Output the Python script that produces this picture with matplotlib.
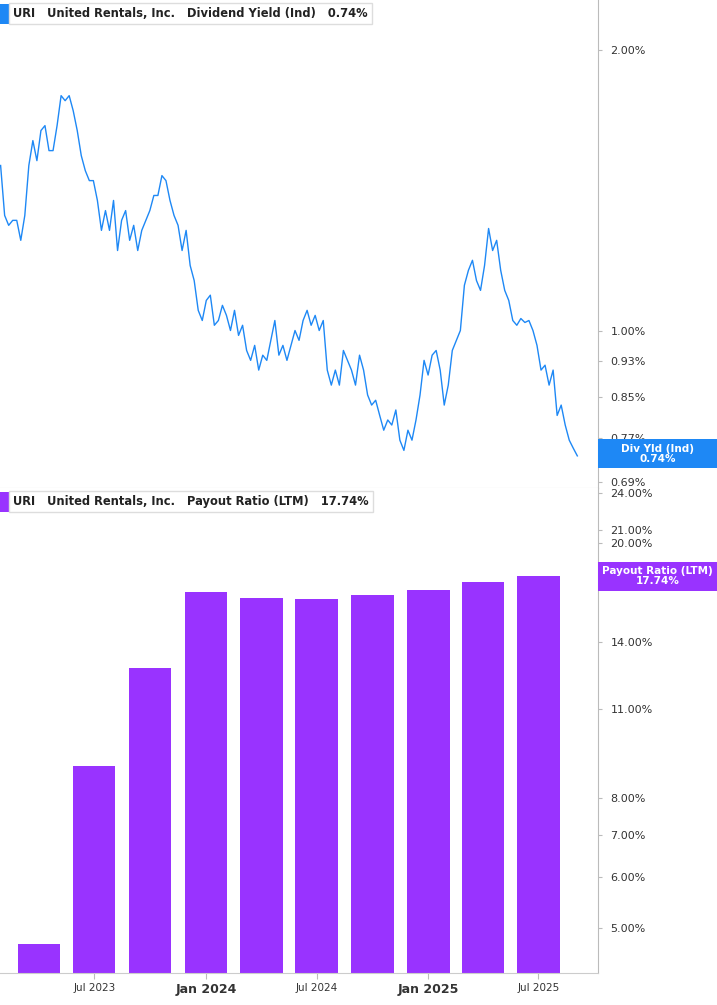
import matplotlib
matplotlib.use("Agg")
import matplotlib.pyplot as plt
from matplotlib.patches import Rectangle
from matplotlib.ticker import FixedLocator, NullLocator
import pandas as pd

# dividend yield (%), roughly weekly samples Feb 2023 - Sep 2025
yield_vals = [1.504, 1.330, 1.298, 1.314, 1.314, 1.251, 1.330, 1.504, 1.599, 1.522,
              1.639, 1.659, 1.560, 1.560, 1.659, 1.786, 1.764, 1.786, 1.721, 1.639,
              1.541, 1.485, 1.449, 1.449, 1.380, 1.282, 1.346, 1.282, 1.380, 1.220,
              1.314, 1.346, 1.251, 1.298, 1.220, 1.282, 1.314, 1.346, 1.397, 1.397,
              1.467, 1.449, 1.380, 1.330, 1.298, 1.220, 1.282, 1.176, 1.133, 1.053,
              1.027, 1.079, 1.093, 1.015, 1.027, 1.066, 1.040, 1.002, 1.053, 0.990,
              1.015, 0.954, 0.931, 0.966, 0.909, 0.943, 0.931, 0.978, 1.027, 0.943,
              0.966, 0.931, 0.966, 1.002, 0.978, 1.027, 1.053, 1.015, 1.040, 1.002,
              1.027, 0.909, 0.876, 0.909, 0.876, 0.954, 0.931, 0.909, 0.876, 0.943,
              0.909, 0.855, 0.834, 0.844, 0.813, 0.784, 0.804, 0.794, 0.824, 0.765,
              0.746, 0.784, 0.765, 0.804, 0.855, 0.931, 0.898, 0.943, 0.954, 0.909,
              0.834, 0.876, 0.954, 0.978, 1.002, 1.120, 1.162, 1.191, 1.133, 1.106,
              1.176, 1.288, 1.220, 1.251, 1.162, 1.106, 1.079, 1.027, 1.015, 1.032,
              1.022, 1.027, 1.002, 0.966, 0.909, 0.920, 0.876, 0.909, 0.813, 0.834,
              0.794, 0.765, 0.750, 0.736]
yield_dates = pd.date_range("2023-01-28", "2025-09-03", periods=len(yield_vals))

# payout ratio (LTM, %), quarterly
payout_dates = pd.to_datetime(["2023-04-01", "2023-07-01", "2023-10-01", "2024-01-01",
                               "2024-04-01", "2024-07-01", "2024-10-01", "2025-01-01",
                               "2025-04-01", "2025-07-01"])
payout_vals = [4.72, 8.97, 12.78, 16.76, 16.40, 16.35, 16.60, 16.90, 17.37, 17.74]

top_ticks = [0.69, 0.77, 0.85, 0.93, 1.00, 2.00]
bot_ticks = [5, 6, 7, 8, 11, 14, 20, 21, 24]

BLUE = "#1E88F5"
PURPLE = "#9933FF"

fig = plt.figure(figsize=(7.17, 10.05), dpi=100)
ax1 = fig.add_axes([0, 0.5144, 0.834, 0.4856])
ax2 = fig.add_axes([0, 0.0318, 0.834, 0.4826], sharex=ax1)

xmin, xmax = pd.Timestamp("2023-01-27"), pd.Timestamp("2025-10-07")

for ax in (ax1, ax2):
    ax.set_yscale("log")
    for s in ("left", "top"):
        ax.spines[s].set_visible(False)
    ax.spines["right"].set_color("#bbbbbb")
    ax.spines["bottom"].set_color("#cccccc")
    ax.yaxis.tick_right()
    ax.yaxis.set_minor_locator(NullLocator())
    ax.tick_params(axis="y", length=3, color="#bbbbbb", labelsize=8, labelcolor="#333333", pad=6)

ax1.plot(yield_dates, yield_vals, color=BLUE, lw=1)
ax1.set_ylim(0.68, 2.26)
ax1.yaxis.set_major_locator(FixedLocator(top_ticks))
ax1.set_yticklabels([f"{t:.2f}%" for t in top_ticks])
ax1.tick_params(axis="x", bottom=False, labelbottom=False)

ax2.bar(payout_dates, payout_vals, width=70, color=PURPLE)
ax2.set_ylim(4.25, 24.4)
ax2.yaxis.set_major_locator(FixedLocator(bot_ticks))
ax2.set_yticklabels([f"{t:.2f}%" for t in bot_ticks])
ax2.set_xlim(xmin, xmax)
xt = pd.to_datetime(["2023-07-01", "2024-01-01", "2024-07-01", "2025-01-01", "2025-07-01"])
ax2.set_xticks(xt)
ax2.set_xticklabels(["Jul 2023", "Jan 2024", "Jul 2024", "Jan 2025", "Jul 2025"])
ax2.tick_params(axis="x", length=4, color="#bbbbbb", labelcolor="#333333", labelsize=7.5)
for lbl in ax2.get_xticklabels():
    if lbl.get_text().startswith("Jan"):
        lbl.set_fontweight("bold")
        lbl.set_fontsize(9)

# headers
def header(ax, text, val, color):
    ax.text(0.006, 0.985, " ", transform=ax.transAxes, fontsize=8.5,
            bbox=dict(boxstyle="square,pad=0.3", fc=color, ec="none"), va="top")
    ax.text(0.022, 0.985, f"URI   United Rentals, Inc.   {text}   {val}", transform=ax.transAxes,
            fontsize=8.3, fontweight="bold", va="top", color="#222222",
            bbox=dict(boxstyle="square,pad=0.35", fc="white", ec="#dddddd"))

header(ax1, "Dividend Yield (Ind)", "0.74%", BLUE)
header(ax2, "Payout Ratio (LTM)", "17.74%", PURPLE)

# right-side value boxes, full width of the right margin
def value_box(ax, yval, label, color):
    _, py = ax.transData.transform((0, yval))
    fy = py / fig.bbox.height
    h = 29 / fig.bbox.height
    x0 = 598 / 717
    fig.patches.append(Rectangle((x0, fy - h / 2), 1 - x0, h, transform=fig.transFigure,
                                 fc=color, ec="none", zorder=5))
    fig.text((x0 + 1) / 2, fy, label, ha="center", va="center", fontsize=7.5,
             fontweight="bold", color="white", linespacing=1.0, zorder=6)

value_box(ax1, 0.74, "Div Yld (Ind)\n0.74%", BLUE)
value_box(ax2, 17.74, "Payout Ratio (LTM)\n17.74%", PURPLE)

fig.savefig("out.png", dpi=100)
